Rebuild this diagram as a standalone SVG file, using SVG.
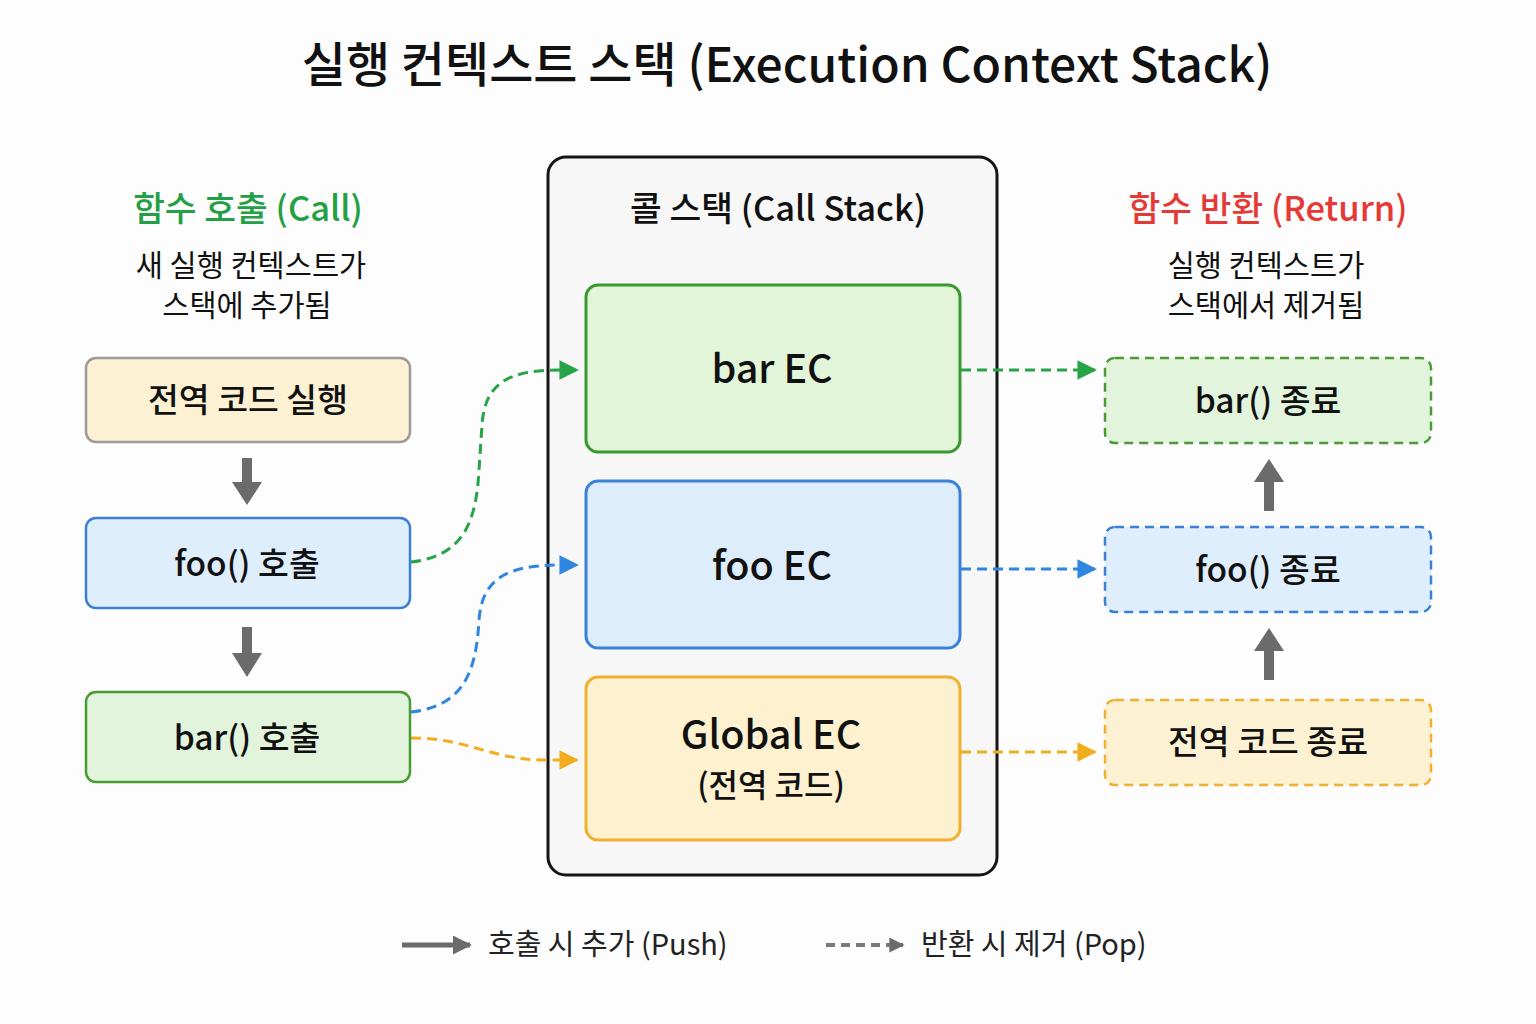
<svg xmlns="http://www.w3.org/2000/svg" width="1536" height="1024" viewBox="0 0 1536 1024">
  <style>
    text { font-family: "Noto Sans CJK KR", "Noto Sans", sans-serif; fill: #111; text-anchor: middle; }
    .title { font-size: 48px; font-weight: 500; }
    .head { font-size: 34.5px; font-weight: 500; }
    .sub { font-size: 29.5px; }
    .lbl { font-size: 33.5px; font-weight: 500; }
    .ec { font-size: 39.5px; font-weight: 500; }
    .ecsub { font-size: 32px; font-weight: 500; }
    .leg { font-size: 29px; text-anchor: start; fill: #222; }
    .conn { fill: none; stroke-width: 3; stroke-dasharray: 10 6; }
    .flow { fill: #6b6b6b; }
  </style>
  <defs>
    <marker id="ahGreen" viewBox="0 0 10 10" refX="9" refY="5" markerWidth="7" markerHeight="6.5" markerUnits="strokeWidth" orient="auto"><path d="M0,0 L10,5 L0,10 Z" fill="#27a448"/></marker>
    <marker id="ahBlue" viewBox="0 0 10 10" refX="9" refY="5" markerWidth="7" markerHeight="6.5" markerUnits="strokeWidth" orient="auto"><path d="M0,0 L10,5 L0,10 Z" fill="#2f86e0"/></marker>
    <marker id="ahOrange" viewBox="0 0 10 10" refX="9" refY="5" markerWidth="7" markerHeight="6.5" markerUnits="strokeWidth" orient="auto"><path d="M0,0 L10,5 L0,10 Z" fill="#f2ad1e"/></marker>
    <marker id="ahGray" viewBox="0 0 10 10" refX="9" refY="5" markerWidth="3.8" markerHeight="3.8" orient="auto"><path d="M0,0 L10,5 L0,10 Z" fill="#6b6b6b"/></marker>
  </defs>

  <rect width="1536" height="1024" fill="#fdfdfd"/>

  <text class="title" x="787" y="82">실행 컨텍스트 스택 (Execution Context Stack)</text>

  <!-- left column headings -->
  <text class="head" x="248" y="221" style="fill:#23a045">함수 호출 (Call)</text>
  <text class="sub" x="251" y="276">새 실행 컨텍스트가</text>
  <text class="sub" x="247" y="316">스택에 추가됨</text>

  <!-- right column headings -->
  <text class="head" x="1268" y="221" style="fill:#e53935">함수 반환 (Return)</text>
  <text class="sub" x="1266" y="276">실행 컨텍스트가</text>
  <text class="sub" x="1266" y="316">스택에서 제거됨</text>

  <!-- call stack container -->
  <g id="callstack">
    <rect x="548" y="157" width="449" height="718" rx="18" fill="#f7f7f7" stroke="#151515" stroke-width="3"/>
    <text class="head" x="778" y="221">콜 스택 (Call Stack)</text>
  </g>

  <!-- connectors -->
  <g id="connectors">
    <path class="conn" stroke="#27a448" d="M411,562 C462,556 476,525 479,470 L482,425 C485,385 505,370 560,370 L577,370" marker-end="url(#ahGreen)"/>
    <path class="conn" stroke="#2f86e0" d="M411,712 C462,706 476,675 479,620 C482,580 505,565 560,565 L577,565" marker-end="url(#ahBlue)"/>
    <path class="conn" stroke="#f2ad1e" d="M411,738 C470,738 490,760 545,760 L577,760" marker-end="url(#ahOrange)"/>
    <path class="conn" stroke="#27a448" stroke-dasharray="14 7 3 7" d="M961,370 L1095,370" marker-end="url(#ahGreen)"/>
    <path class="conn" stroke="#2f86e0" d="M961,569 L1095,569" marker-end="url(#ahBlue)"/>
    <path class="conn" stroke="#f2ad1e" stroke-dasharray="14 7 3 7" d="M961,752 L1095,752" marker-end="url(#ahOrange)"/>
    <!-- flow arrows -->
    <path class="flow" d="M242,458 H252 V482 H262 L247,505 L232,482 H242 Z"/>
    <path class="flow" d="M242,627 H252 V653 H262 L247,677 L232,653 H242 Z"/>
    <path class="flow" d="M1264,511 H1274 V482 H1284 L1269,459 L1254,482 H1264 Z"/>
    <path class="flow" d="M1264,680 H1274 V651 H1284 L1269,628 L1254,651 H1264 Z"/>
  </g>

  <!-- left nodes -->
  <g id="global-run">
    <rect x="86" y="358" width="324" height="84" rx="10" fill="#fdf1d4" stroke="#9a9a9a" stroke-width="2.5"/>
    <text class="lbl" x="248" y="412">전역 코드 실행</text>
  </g>
  <g id="foo-call">
    <rect x="86" y="518" width="324" height="90" rx="10" fill="#dfeefd" stroke="#3a80d4" stroke-width="2.5"/>
    <text class="lbl" x="247" y="576">foo() 호출</text>
  </g>
  <g id="bar-call">
    <rect x="86" y="692" width="324" height="90" rx="10" fill="#e2f4db" stroke="#4a9a35" stroke-width="2.5"/>
    <text class="lbl" x="247" y="750">bar() 호출</text>
  </g>

  <!-- stack frames -->
  <g id="bar-ec">
    <rect x="586" y="285" width="374" height="167" rx="12" fill="#e2f5d8" stroke="#3a9a30" stroke-width="3"/>
    <text class="ec" x="772" y="383">bar EC</text>
  </g>
  <g id="foo-ec">
    <rect x="586" y="481" width="374" height="167" rx="12" fill="#ddedfb" stroke="#3a82d8" stroke-width="3"/>
    <text class="ec" x="772" y="580">foo EC</text>
  </g>
  <g id="global-ec">
    <rect x="586" y="677" width="374" height="163" rx="12" fill="#fdf1cf" stroke="#f0b030" stroke-width="3"/>
    <text class="ec" x="771" y="749">Global EC</text>
    <text class="ecsub" x="771" y="797">(전역 코드)</text>
  </g>

  <!-- right nodes -->
  <g id="bar-end">
    <rect x="1105" y="358" width="326" height="85" rx="10" fill="#e2f4db" stroke="#4a9a35" stroke-width="2.5" stroke-dasharray="9 6"/>
    <text class="lbl" x="1268" y="413">bar() 종료</text>
  </g>
  <g id="foo-end">
    <rect x="1105" y="527" width="326" height="85" rx="10" fill="#dfeefd" stroke="#3a80d4" stroke-width="2.5" stroke-dasharray="9 6"/>
    <text class="lbl" x="1268" y="582">foo() 종료</text>
  </g>
  <g id="global-end">
    <rect x="1105" y="700" width="326" height="85" rx="10" fill="#fdf1d4" stroke="#f0b030" stroke-width="2.5" stroke-dasharray="9 6"/>
    <text class="lbl" x="1268" y="754">전역 코드 종료</text>
  </g>

  <!-- legend -->
  <g id="legend">
    <line x1="402" y1="945" x2="470" y2="945" stroke="#6b6b6b" stroke-width="5" marker-end="url(#ahGray)"/>
    <text class="leg" x="488" y="955">호출 시 추가 (Push)</text>
    <line x1="826" y1="945" x2="903" y2="945" stroke="#7a7a7a" stroke-width="4" stroke-dasharray="9 6" marker-end="url(#ahGray)"/>
    <text class="leg" x="921" y="955">반환 시 제거 (Pop)</text>
  </g>
</svg>
